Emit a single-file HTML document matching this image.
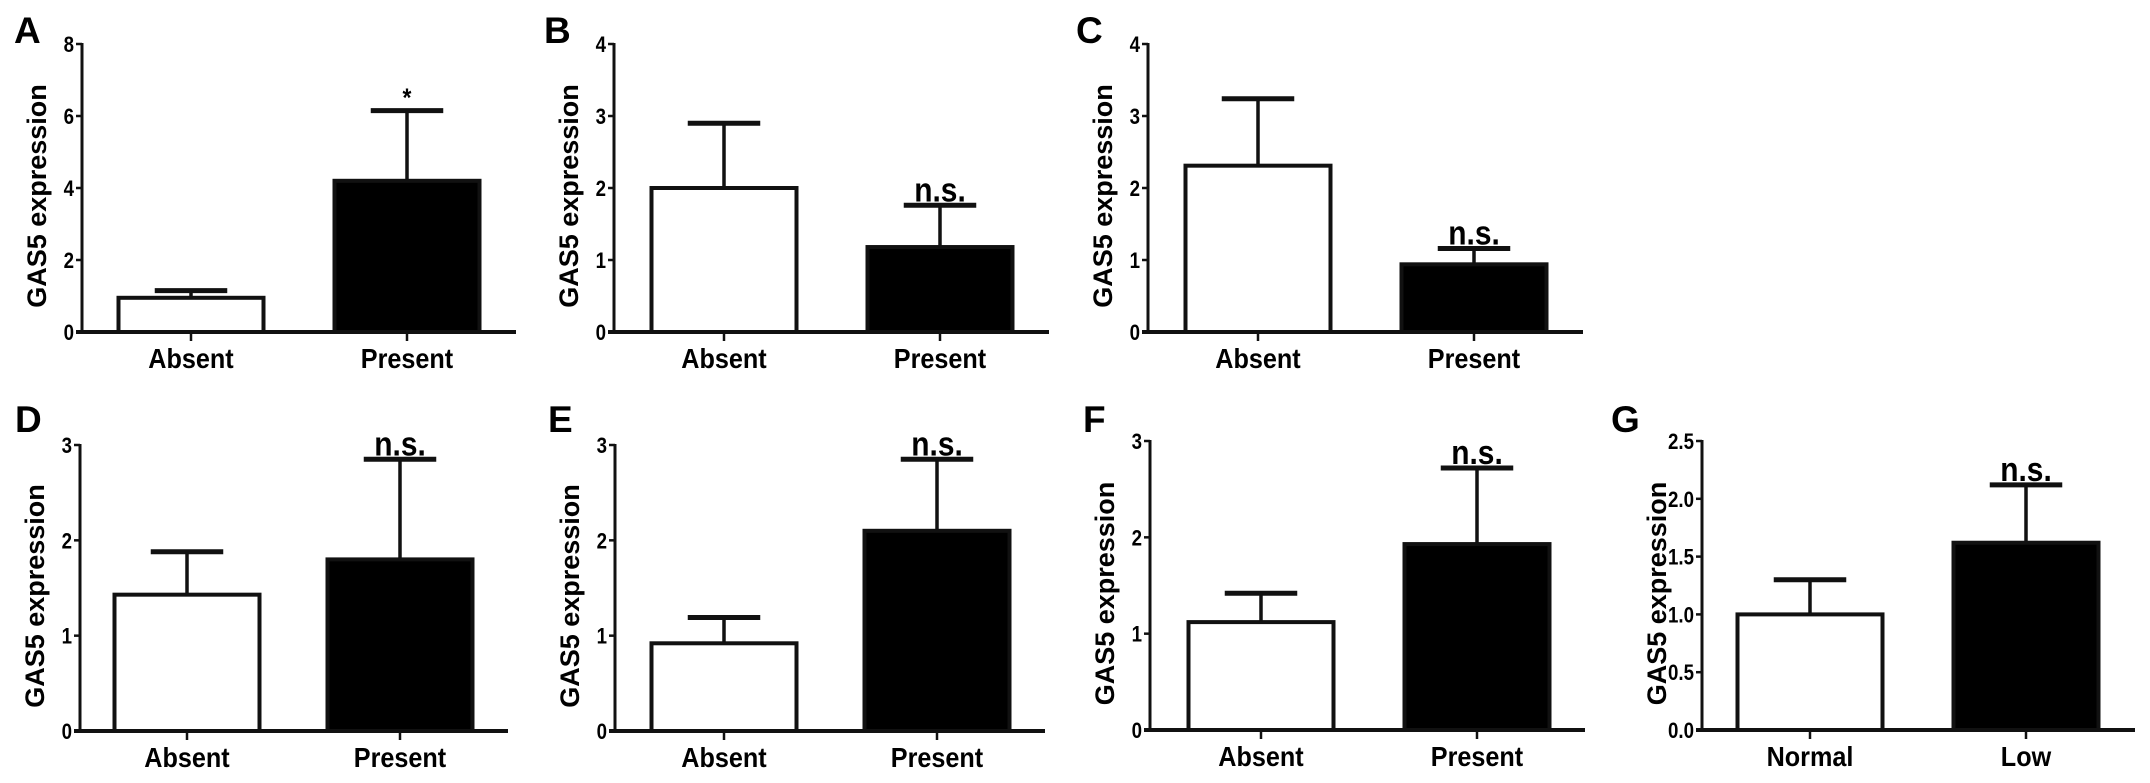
<!DOCTYPE html>
<html><head><meta charset="utf-8"><style>
html,body{margin:0;padding:0;background:#fff;}
svg{display:block;font-family:"Liberation Sans",Arial,sans-serif;font-weight:bold;}
</style></head><body>
<svg id="fig" width="2150" height="783" viewBox="0 0 2150 783"></svg>
<script>
// ---- data ----
const panelLetters = ["A","B","C","D","E","F","G"];
const categoriesA = ["Absent","Present"];
const categoriesG = ["Normal","Low"];
const meanA = [0.95, 4.2];   const errA = [1.15, 6.15];
const meanB = [2.0, 1.18];   const errB = [2.9, 1.76];
const meanC = [2.31, 0.94];  const errC = [3.24, 1.16];
const meanD = [1.43, 1.8];   const errD = [1.88, 2.85];
const meanE = [0.92, 2.1];   const errE = [1.19, 2.85];
const meanF = [1.12, 1.93];  const errF = [1.42, 2.72];
const meanG = [1.0, 1.62];   const errG = [1.30, 2.12];
const ticksA = ["0","2","4","6","8"];
const ticks4 = ["0","1","2","3","4"];
const ticks3 = ["0","1","2","3"];
const ticksG = ["0.0","0.5","1.0","1.5","2.0","2.5"];
const sigA = ["", "*"];
const sigNS = ["", "n.s."];

// ---- layout ----
const NS = "http://www.w3.org/2000/svg";
const svg = document.getElementById('fig');
function mk(tag, attrs, parent){
  const e = document.createElementNS(NS, tag);
  for (const k in attrs) e.setAttribute(k, attrs[k]);
  (parent||svg).appendChild(e); return e;
}
const panels = [
  {id:"a", ax:82,  top:44,  zero:332, xend:516,  cx:[191,407],  lx:14,   ly:43,  ymax:8,   ticks:ticksA, cats:categoriesA, mean:meanA, err:errA, sig:sigA},
  {id:"b", ax:614, top:44,  zero:332, xend:1049, cx:[724,940],  lx:544,  ly:43,  ymax:4,   ticks:ticks4, cats:categoriesA, mean:meanB, err:errB, sig:sigNS},
  {id:"c", ax:1148,top:44,  zero:332, xend:1583, cx:[1258,1474],lx:1076, ly:43,  ymax:4,   ticks:ticks4, cats:categoriesA, mean:meanC, err:errC, sig:sigNS},
  {id:"d", ax:80,  top:445, zero:731, xend:508,  cx:[187,400],  lx:15,   ly:432, ymax:3,   ticks:ticks3, cats:categoriesA, mean:meanD, err:errD, sig:sigNS},
  {id:"e", ax:615, top:445, zero:731, xend:1045, cx:[724,937],  lx:548,  ly:432, ymax:3,   ticks:ticks3, cats:categoriesA, mean:meanE, err:errE, sig:sigNS},
  {id:"f", ax:1150,top:441, zero:730, xend:1585, cx:[1261,1477],lx:1083, ly:432, ymax:3,   ticks:ticks3, cats:categoriesA, mean:meanF, err:errF, sig:sigNS},
  {id:"g", ax:1702,top:441, zero:730, xend:2135, cx:[1810,2026],lx:1611, ly:432, ymax:2.5, ticks:ticksG, cats:categoriesG, mean:meanG, err:errG, sig:sigNS}
];
const BW = 145;

panels.forEach((p, pi) => {
  const g = mk('g', {});
  
  
  const y = v => p.zero - (v / p.ymax) * (p.zero - p.top);

  const L = mk('text', {x:p.lx, y:p.ly, 'font-size':37}, g);
  L.textContent = panelLetters[pi];
  
  

  const cy = (p.top + p.zero) / 2 + 8;
  const yt = mk('text', {x:0, y:0, 'font-size':27, 'text-anchor':'middle', transform:`translate(${p.ax-36},${cy}) rotate(-90)`}, g);
  yt.textContent = "GAS5 expression";
  
  

  const yl = mk('line', {x1:p.ax, y1:p.top-1, x2:p.ax, y2:p.zero, stroke:'#111', 'stroke-width':3}, g);
  
  
  const n = p.ticks.length;
  p.ticks.forEach((t, i) => {
    const v = p.ymax * i / (n - 1);
    const tk = mk('line', {x1:p.ax-6, y1:y(v), x2:p.ax, y2:y(v), stroke:'#111', 'stroke-width':2.5}, g);
    
    
    const tl = mk('text', {x:p.ax-8, y:y(v)+8, 'font-size':22, 'text-anchor':'end', transform:`translate(${(p.ax-8)*0.15},0) scale(0.85,1)`}, g);
    tl.textContent = t;
    
    
  });

  const xl = mk('line', {x1:p.ax-6, y1:p.zero, x2:p.xend, y2:p.zero, stroke:'#111', 'stroke-width':4}, g);
  
  

  p.cats.forEach((c, i) => {
    const cx = p.cx[i];
    const top = y(p.mean[i]);
    const ev = mk('line', {x1:cx, y1:y(p.err[i]), x2:cx, y2:top, stroke:'#111', 'stroke-width':3.5}, g);
    
    
    const ec = mk('line', {x1:cx-BW/4, y1:y(p.err[i]), x2:cx+BW/4, y2:y(p.err[i]), stroke:'#111', 'stroke-width':5}, g);
    
    
    const b = mk('rect', {x:cx-BW/2, y:top, width:BW, height:p.zero-top, fill:i===0?'#fff':'#000', stroke:'#111', 'stroke-width':4}, g);
    
    
    const xt = mk('line', {x1:cx, y1:p.zero, x2:cx, y2:p.zero+9, stroke:'#111', 'stroke-width':2.5}, g);
    
    
    const xlab = mk('text', {x:cx/0.9, y:p.zero+36, 'font-size':28, 'text-anchor':'middle', transform:'scale(0.9,1)'}, g);
    xlab.textContent = c;
    
    
    if (p.sig[i]) {
      const isStar = p.sig[i] === '*';
      const s = mk('text', {x:cx/0.88, y:y(p.err[i]) - 4, 'font-size':isStar?26:34, 'text-anchor':'middle', transform:'scale(0.88,1)'}, g);
      s.textContent = p.sig[i];
      
      
    }
  });
});
</script>
</body></html>
